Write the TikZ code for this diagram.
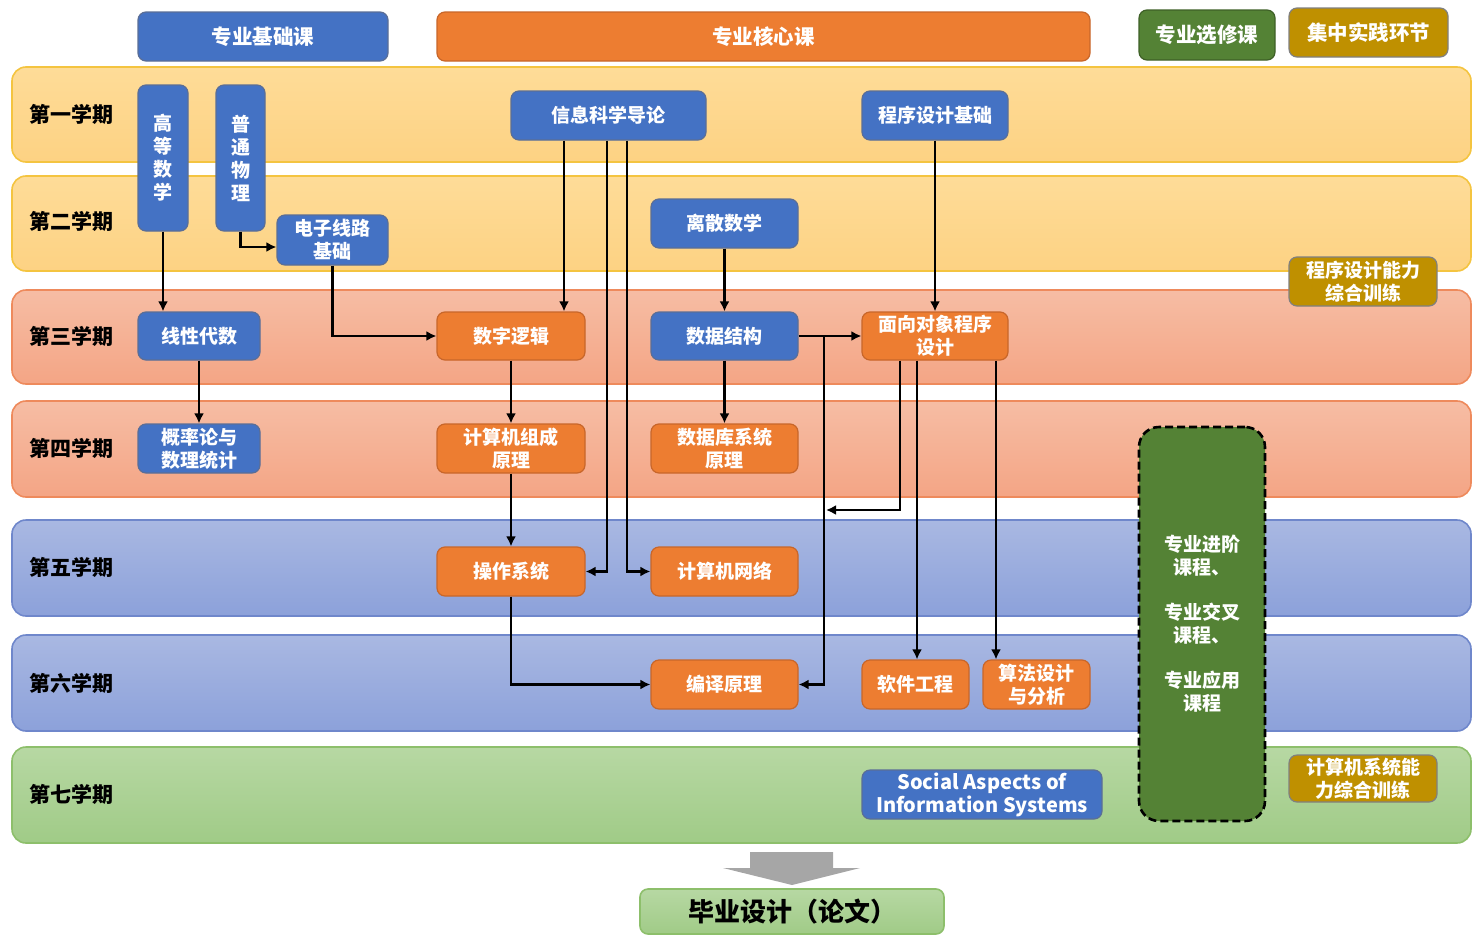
\documentclass[tikz,border=0pt]{standalone}
\usepackage{fontspec}
\setmainfont{Noto Sans CJK SC}
\usetikzlibrary{arrows.meta}

\definecolor{jcblue}{HTML}{4472C4}
\definecolor{jcline}{HTML}{5B6E96}
\definecolor{hxorange}{HTML}{ED7D31}
\definecolor{hxline}{HTML}{C8662A}
\definecolor{xxgreen}{HTML}{548235}
\definecolor{xxline}{HTML}{3E6027}
\definecolor{sjgold}{HTML}{BF9000}
\definecolor{sjline}{HTML}{808080}
\definecolor{ylwtop}{HTML}{FEDC98}
\definecolor{ylwbot}{HTML}{FDD283}
\definecolor{ylwline}{HTML}{F4C440}
\definecolor{saltop}{HTML}{F6BDA4}
\definecolor{salbot}{HTML}{F4A585}
\definecolor{salline}{HTML}{EE8A5C}
\definecolor{blutop}{HTML}{A9B8E2}
\definecolor{blubot}{HTML}{8CA1DA}
\definecolor{bluline}{HTML}{6F87CB}
\definecolor{grntop}{HTML}{B7D8A3}
\definecolor{grnbot}{HTML}{A0CB87}
\definecolor{grnline}{HTML}{8DBF6B}
\definecolor{arrgray}{HTML}{A6A6A6}

\begin{document}
\begin{tikzpicture}[x=0.5pt,y=-0.5pt,
  band/.style={rounded corners=7pt,line width=0.8pt},
  term/.style={anchor=west,inner sep=0pt,font=\fontsize{10.5}{12}\selectfont\bfseries},
  course/.style={rounded corners=4pt,line width=0.6pt,text=white,align=center,inner sep=0pt,font=\fontsize{9.5}{11.5}\selectfont\bfseries},
  head/.style={font=\fontsize{10.25}{12}\selectfont\bfseries},
  jichu/.style={course,fill=jcblue,draw=jcline},
  hexin/.style={course,fill=hxorange,draw=hxline},
  xuanxiu/.style={course,fill=xxgreen,draw=xxline},
  shijian/.style={course,fill=sjgold,draw=sjline},
  arr/.style={-{Latex[length=5pt,width=5pt]},line width=1.2pt,black}]
\useasboundingbox (0,0) rectangle (1472,937);

% semester bands
\shade[band,top color=ylwtop,bottom color=ylwbot,draw=ylwline] (12,67) rectangle (1471,162);
\shade[band,top color=ylwtop,bottom color=ylwbot,draw=ylwline] (12,176) rectangle (1471,271);
\shade[band,top color=saltop,bottom color=salbot,draw=salline] (12,290) rectangle (1471,384);
\shade[band,top color=saltop,bottom color=salbot,draw=salline] (12,401) rectangle (1471,497);
\shade[band,top color=blutop,bottom color=blubot,draw=bluline] (12,520) rectangle (1471,616);
\shade[band,top color=blutop,bottom color=blubot,draw=bluline] (12,635) rectangle (1471,731);
\shade[band,top color=grntop,bottom color=grnbot,draw=grnline] (12,747) rectangle (1471,843);

\node[term] (t1) at (29,114) {第一学期};
\node[term] (t2) at (29,221) {第二学期};
\node[term] (t3) at (29,336) {第三学期};
\node[term] (t4) at (29,448) {第四学期};
\node[term] (t5) at (29,567) {第五学期};
\node[term] (t6) at (29,683) {第六学期};
\node[term] (t7) at (29,794) {第七学期};

% legend
\node[jichu,head,minimum width=125pt,minimum height=24.5pt] (hjc) at (263,36.5) {专业基础课};
\node[hexin,head,minimum width=326.5pt,minimum height=24.5pt] (hhx) at (763.5,36.5) {专业核心课};
\node[xuanxiu,head,minimum width=68pt,minimum height=25pt] (hxx) at (1207,35) {专业选修课};
\node[shijian,head,minimum width=79.5pt,minimum height=24.5pt] (hsj) at (1368.5,32.5) {集中实践环节};

% courses
\node[jichu,minimum width=25pt,minimum height=73pt] (gdsx) at (163,158) {高\\等\\数\\学};
\node[jichu,minimum width=24.5pt,minimum height=73pt] (ptwl) at (240.5,158) {普\\通\\物\\理};
\node[jichu,minimum width=55.5pt,minimum height=25pt] (dzxl) at (332.5,240) {电子线路\\基础};
\node[jichu,minimum width=97.5pt,minimum height=24.5pt] (xxkx) at (608.5,115.5) {信息科学导论};
\node[jichu,minimum width=73pt,minimum height=24.5pt] (cxsj) at (935,115.5) {程序设计基础};
\node[jichu,minimum width=73.5pt,minimum height=24.5pt] (lssx) at (724.5,223.5) {离散数学};
\node[jichu,minimum width=61pt,minimum height=24pt] (xxds) at (199,336) {线性代数};
\node[hexin,minimum width=74pt,minimum height=24pt] (szlj) at (511,336) {数字逻辑};
\node[jichu,minimum width=73.5pt,minimum height=24pt] (sjjg) at (724.5,336) {数据结构};
\node[hexin,minimum width=73pt,minimum height=24pt] (mxdx) at (935,336) {面向对象程序\\设计};
\node[jichu,minimum width=61pt,minimum height=24.5pt] (gltj) at (199,448.5) {概率论与\\数理统计};
\node[hexin,minimum width=74pt,minimum height=24.5pt] (jszc) at (511,448.5) {计算机组成\\原理};
\node[hexin,minimum width=73.5pt,minimum height=24.5pt] (sjk) at (724.5,448.5) {数据库系统\\原理};
\node[hexin,minimum width=74pt,minimum height=24.5pt] (czxt) at (511,571.5) {操作系统};
\node[hexin,minimum width=73.5pt,minimum height=24.5pt] (jswl) at (724.5,571.5) {计算机网络};
\node[hexin,minimum width=73.5pt,minimum height=24.5pt] (byyl) at (724.5,684.5) {编译原理};
\node[hexin,minimum width=53.5pt,minimum height=24.5pt] (rjgc) at (915.5,684.5) {软件工程};
\node[hexin,minimum width=53.5pt,minimum height=24.5pt] (sffx) at (1036.5,684.5) {算法设计\\与分析};
\node[jichu,minimum width=120pt,minimum height=24.5pt,font=\fontsize{10}{11.5}\selectfont\bfseries] (shxx) at (982,794.5) {Social Aspects of\\Information Systems};
\node[shijian,minimum width=74pt,minimum height=24.5pt] (cxxl) at (1363,281.5) {程序设计能力\\综合训练};
\node[shijian,minimum width=74pt,minimum height=23.5pt] (xtxl) at (1363,778.5) {计算机系统能\\力综合训练};
\node[xuanxiu,draw=black,dashed,dash pattern=on 4pt off 2pt,line width=1.3pt,rounded corners=10pt,minimum width=63pt,minimum height=197pt] (zyxx) at (1202,624) {专业进阶\\课程、\\[11pt]专业交叉\\课程、\\[11pt]专业应用\\课程};

% graduation
\fill[arrgray] (750,852) -- (833,852) -- (833,868) -- (860,868) -- (792,885) -- (723,868) -- (750,868) -- cycle;
\node[course,top color=grntop,bottom color=grnbot,draw=grnline,line width=0.8pt,text=black,minimum width=152pt,minimum height=22.5pt,font=\fontsize{13}{15}\selectfont\bfseries] (bysj) at (792,911.5) {毕业设计（论文）};

% prerequisites
\coordinate (xa) at ([xshift=-22.25pt]xxkx.south);
\coordinate (xb) at ([xshift=-0.75pt]xxkx.south);
\coordinate (xc) at ([xshift=9.25pt]xxkx.south);
\coordinate (ma) at ([xshift=-17.5pt]mxdx.south);
\coordinate (mb) at ([xshift=-9pt]mxdx.south);
\coordinate (mc) at ([xshift=30.5pt]mxdx.south);
\coordinate (sb) at (824,336);
\coordinate (mj) at (826,510);

\draw[arr] (gdsx.south) -- (gdsx.south |- xxds.north);
\draw[arr] (ptwl.south) |- ([yshift=-3.5pt]dzxl.west);
\draw[arr] (dzxl.south) |- (szlj.west);
\draw[arr] (xa) -- (xa |- szlj.north);
\draw[arr] (xb) |- (czxt.east);
\draw[arr] (xc) |- (jswl.west);
\draw[arr] (cxsj.south) -- (mxdx.north);
\draw[arr] (lssx.south) -- (sjjg.north);
\draw[arr] (sjjg.east) -- (mxdx.west);
\draw[arr] (sb) |- (byyl.east);
\draw[arr] (ma) |- (mj);
\draw[arr] (mb) -- (mb |- rjgc.north);
\draw[arr] (mc) -- (mc |- sffx.north);
\draw[arr] (xxds.south) -- (gltj.north);
\draw[arr] (szlj.south) -- (jszc.north);
\draw[arr] (sjjg.south) -- (sjk.north);
\draw[arr] (jszc.south) -- (czxt.north);
\draw[arr] (czxt.south) |- (byyl.west);
\end{tikzpicture}
\end{document}
